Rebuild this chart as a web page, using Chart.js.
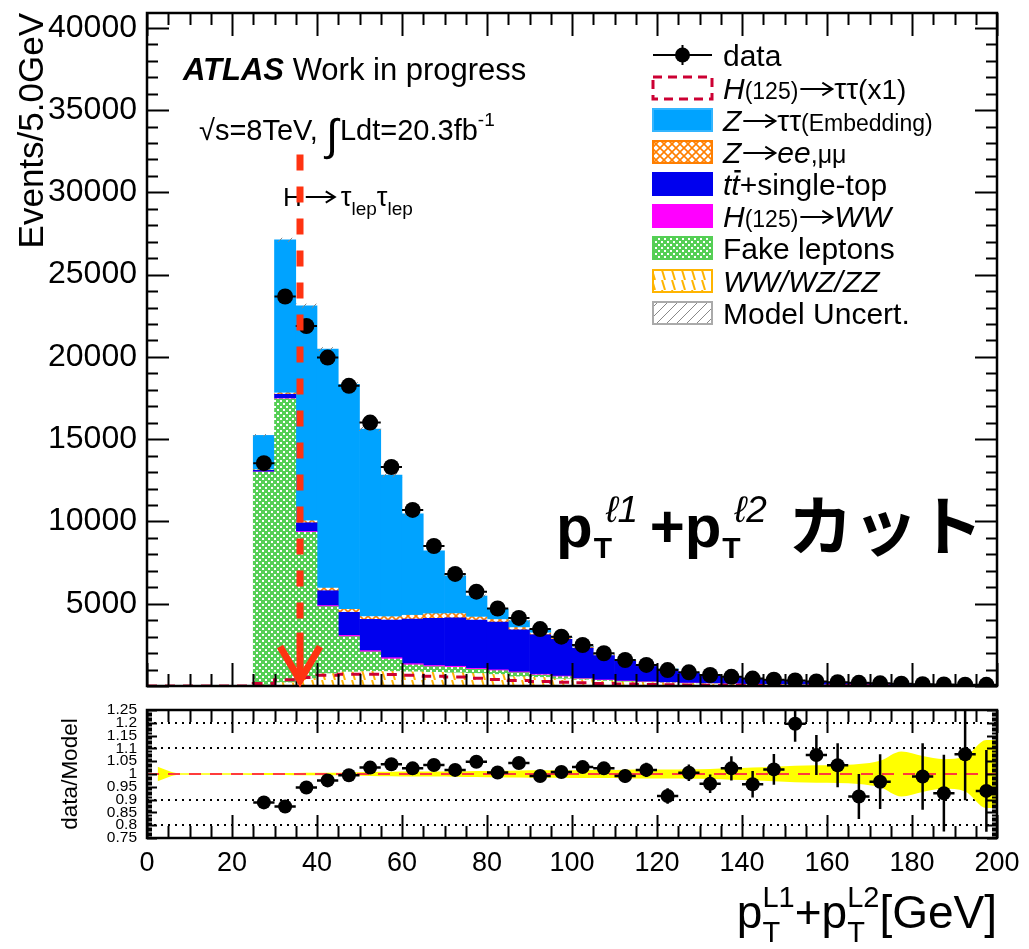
<!DOCTYPE html>
<html lang="ja">
<head>
<meta charset="utf-8">
<title>pT(l1)+pT(l2) distribution</title>
<script src="https://cdn.jsdelivr.net/npm/chart.js@4.4.1/dist/chart.umd.min.js"></script>
<style>
  html, body { margin: 0; padding: 0; background: #ffffff; }
  #wrap { position: relative; width: 1029px; height: 949px; overflow: hidden; background: #ffffff; }
  canvas { position: absolute; left: 0; }
  #mainCanvas { top: 0; }
  #ratioCanvas { top: 700px; }
</style>
</head>
<body>
<div id="wrap">
  <canvas id="mainCanvas" width="1029" height="700"></canvas>
  <canvas id="ratioCanvas" width="1029" height="249"></canvas>
</div>
<script>
// ---------------- binning (GeV) ----------------
const binLow = [0, 5, 10, 15, 20, 25, 30, 35, 40, 45, 50, 55, 60, 65, 70, 75, 80, 85, 90, 95,
                100, 105, 110, 115, 120, 125, 130, 135, 140, 145, 150, 155, 160, 165, 170, 175, 180, 185, 190, 195];
const binWidth = 5;
const xMin = 0, xMax = 200;
const xTickValues = [0, 20, 40, 60, 80, 100, 120, 140, 160, 180, 200];
const yMaxEvents = 40900;
const yTickValues = [5000, 10000, 15000, 20000, 25000, 30000, 35000, 40000];
const ratioMin = 0.75, ratioMax = 1.25;

// ---------------- observed events ----------------
const dataEvents = [null, null, null, null, null, 13540, 23670, 21880, 19960, 18240,
                    16010, 13310, 10700, 8510, 6810, 5730, 4710, 4140, 3460, 3000,
                    2490, 1990, 1580, 1280, 970, 830, 670, 560, 450, 380,
                    340, 280, 230, 190, 160, 135, 110, 90, 80, 70];

// ---------------- stacked backgrounds, bottom to top ----------------
const dibosonVV = [0, 0, 0, 0, 0, 60, 200, 450, 750, 850,
                   880, 880, 860, 830, 800, 760, 700, 560, 520, 430,
                   370, 300, 250, 210, 175, 145, 120, 100, 85, 70,
                   58, 48, 40, 34, 28, 24, 20, 17, 14, 12];
const fakeLeptons = [0, 0, 0, 0, 0, 12940, 17250, 8890, 4070, 2150,
                     1190, 760, 420, 345, 335, 255, 230, 250, 150, 135,
                     60, 45, 35, 30, 25, 20, 16, 13, 11, 9,
                     8, 7, 6, 5, 4, 4, 3, 3, 2, 2];
const hWW = [0, 0, 0, 0, 0, 15, 30, 50, 70, 80,
             80, 80, 75, 70, 65, 60, 55, 50, 45, 40,
             35, 30, 26, 22, 19, 16, 14, 12, 10, 8,
             7, 6, 5, 4, 4, 3, 3, 2, 2, 2];
const ttbarTop = [0, 0, 0, 0, 0, 90, 250, 530, 900, 1400,
                  1900, 2290, 2715, 2865, 2950, 2935, 2905, 2560, 2400, 2230,
                  1835, 1475, 1194, 928, 785, 599, 508, 392, 338, 266,
                  195, 186, 159, 155, 121, 97, 79, 70, 52, 55];
const zLL = [0, 0, 0, 0, 0, 40, 80, 120, 160, 180,
             170, 200, 230, 280, 250, 180, 150, 130, 110, 90,
             75, 60, 50, 40, 32, 26, 20, 16, 13, 10,
             8, 7, 6, 5, 4, 3, 3, 2, 2, 2];
const zTauTau = [0, 0, 0, 0, 0, 2085, 9300, 13060, 14520, 13670,
                 11400, 8610, 6170, 3830, 2300, 1280, 640, 420, 265, 55,
                 50, 40, 35, 30, 25, 20, 18, 15, 12, 10,
                 8, 7, 6, 5, 4, 4, 3, 3, 2, 2];

// ---------------- signal (not stacked) ----------------
const hTauTau = [0, 0, 0, 0, 0, 150, 380, 520, 650, 720,
                 720, 700, 660, 600, 540, 470, 400, 330, 280, 230,
                 190, 150, 120, 95, 75, 60, 48, 38, 30, 24,
                 19, 15, 12, 10, 8, 6, 5, 4, 3, 3];

// ---------------- data / model ----------------
const ratioValues = [null, null, null, null, null, 0.889, 0.873, 0.947, 0.975, 0.995,
                     1.025, 1.038, 1.022, 1.035, 1.016, 1.048, 1.006, 1.043, 0.992, 1.008,
                     1.027, 1.022, 0.992, 1.016, 0.914, 1.005, 0.962, 1.022, 0.960, 1.018,
                     1.196, 1.074, 1.034, 0.912, 0.970, null, 0.990, 0.925, 1.077, 0.934];
const ratioErrors = [null, null, null, null, null, 0.008, 0.007, 0.007, 0.007, 0.008,
                     0.008, 0.009, 0.010, 0.011, 0.012, 0.014, 0.015, 0.016, 0.017, 0.019,
                     0.021, 0.024, 0.026, 0.028, 0.030, 0.032, 0.036, 0.047, 0.052, 0.060,
                     0.070, 0.078, 0.086, 0.088, 0.107, null, 0.130, 0.150, 0.180, 0.160];
// relative model uncertainty per bin
const modelUnc = [0.028, 0.003, 0.003, 0.003, 0.003, 0.004, 0.004, 0.005, 0.005, 0.006,
                  0.008, 0.009, 0.010, 0.010, 0.011, 0.012, 0.013, 0.014, 0.015, 0.015,
                  0.016, 0.016, 0.017, 0.018, 0.018, 0.019, 0.020, 0.022, 0.025, 0.028,
                  0.032, 0.034, 0.035, 0.039, 0.052, 0.088, 0.070, 0.058, 0.068, 0.133];

// cut position drawn as an arrow (GeV) and its vertical extent (events)
const cutValue = 36;
const cutArrowTop = 32300;
const cutArrowTip = 330;

// ---------------- derived helpers ----------------
const centre = binLow.map(v => v + binWidth / 2);
const totalModel = binLow.map((_, i) =>
  dibosonVV[i] + fakeLeptons[i] + hWW[i] + ttbarTop[i] + zLL[i] + zTauTau[i]);
const atCentres = arr => centre.map((x, i) => ({ x, y: arr[i] }));

const SANS = '"Liberation Sans", Arial, Helvetica, sans-serif';
const CJK = '"Noto Sans CJK JP", "Noto Sans CJK SC", sans-serif';

// ---------------- fill patterns ----------------
function makePattern(size, paint) {
  const c = document.createElement('canvas');
  c.width = size; c.height = size;
  const g = c.getContext('2d');
  paint(g, size);
  return g.createPattern(c, 'repeat');
}
const COL = {
  ztt: '#00a3ff', tt: '#0000ee', hww: '#ff00ff', green: '#55cf55',
  zll: '#ff7f00', vv: '#ffb400', htt: '#cc0033', cut: '#ff3311', band: '#ffff00'
};
const fakePattern = makePattern(6, (g, s) => {
  g.fillStyle = COL.green; g.fillRect(0, 0, s, s);
  g.fillStyle = '#ffffff';
  g.fillRect(1, 1, 2, 2); g.fillRect(4, 4, 2, 2);
});
const zllPattern = makePattern(8, (g, s) => {
  g.fillStyle = '#ffffff'; g.fillRect(0, 0, s, s);
  g.strokeStyle = COL.zll; g.lineWidth = 1.6;
  g.beginPath();
  g.moveTo(-1, -1); g.lineTo(s + 1, s + 1);
  g.moveTo(s + 1, -1); g.lineTo(-1, s + 1);
  g.stroke();
});
const vvPattern = makePattern(10, (g, s) => {
  g.fillStyle = '#ffffff'; g.fillRect(0, 0, s, s);
  g.strokeStyle = COL.vv; g.lineWidth = 2;
  g.beginPath();
  g.moveTo(2, 0); g.lineTo(5, s);
  g.stroke();
});
const uncPattern = makePattern(10, (g, s) => {
  g.strokeStyle = '#888888'; g.lineWidth = 1;
  g.beginPath();
  g.moveTo(0, s); g.lineTo(s, 0);
  g.moveTo(-2, 2); g.lineTo(2, -2);
  g.moveTo(s - 2, s + 2); g.lineTo(s + 2, s - 2);
  g.stroke();
});

// ---------------- text helper: runs of mixed fonts, drawn arrows, overlines ----------------
function runs(ctx, x, y, parts) {
  for (const p of parts) {
    ctx.fillStyle = p.color || '#000';
    if (p.arrow) {
      const ay = y + p.arrow.dy, w = p.arrow.w;
      ctx.save();
      ctx.strokeStyle = '#000'; ctx.lineWidth = p.arrow.lw || 2;
      ctx.beginPath();
      ctx.moveTo(x + 2, ay); ctx.lineTo(x + w - 3, ay);
      ctx.moveTo(x + w - 3 - p.arrow.head, ay - p.arrow.head * 0.7);
      ctx.lineTo(x + w - 2, ay);
      ctx.lineTo(x + w - 3 - p.arrow.head, ay + p.arrow.head * 0.7);
      ctx.stroke();
      ctx.restore();
      x += w;
      continue;
    }
    ctx.font = p.font;
    ctx.fillText(p.t, x, y + (p.dy || 0));
    const tw = ctx.measureText(p.t).width;
    if (p.overline !== undefined) ctx.fillRect(x + 3, y + p.overline, tw - 2, 2.5);
    if (p.sup) {
      ctx.font = p.sup.font;
      ctx.fillText(p.sup.t, x + (p.sup.dx || 0), y + p.sup.dy);
    }
    x += (p.w !== undefined ? p.w : tw) + (p.kern || 0);
  }
  return x;
}

// ---------------- frame with inward ticks ----------------
const rootFrame = {
  id: 'rootFrame',
  afterDraw(chart, args, o) {
    const { ctx, chartArea: a, scales: { x, y } } = chart;
    ctx.save();
    ctx.strokeStyle = '#000';
    ctx.lineWidth = 2;
    ctx.beginPath();
    const nx = Math.round((x.max - x.min) / o.xMinor);
    for (let i = 0; i <= nx; i++) {
      const v = x.min + i * o.xMinor;
      const px = Math.round(x.getPixelForValue(v)) + 0.5;
      const major = Math.abs(v / o.xMajor - Math.round(v / o.xMajor)) < 1e-6;
      const L = major ? o.xMajorLen : o.xMinorLen;
      ctx.moveTo(px, a.bottom); ctx.lineTo(px, a.bottom - L);
      ctx.moveTo(px, a.top); ctx.lineTo(px, a.top + L);
    }
    const ny = Math.floor((y.max - y.min) / o.yMinor + 1e-6);
    for (let i = 0; i <= ny; i++) {
      const v = y.min + i * o.yMinor;
      const py = Math.round(y.getPixelForValue(v)) + 0.5;
      const major = Math.abs(v / o.yMajor - Math.round(v / o.yMajor)) < 1e-6;
      const L = major ? o.yMajorLen : o.yMinorLen;
      ctx.moveTo(a.left, py); ctx.lineTo(a.left + L, py);
      ctx.moveTo(a.right, py); ctx.lineTo(a.right - L, py);
    }
    ctx.stroke();
    ctx.lineWidth = 2.5;
    ctx.strokeRect(a.left, a.top, a.right - a.left, a.bottom - a.top);
    ctx.restore();
  }
};

// ---------------- error bars on observed points ----------------
const errorBars = {
  id: 'errorBars',
  afterDatasetsDraw(chart, args, o) {
    const { ctx, chartArea: a, scales: { x, y } } = chart;
    ctx.save();
    ctx.beginPath(); ctx.rect(a.left, a.top, a.right - a.left, a.bottom - a.top); ctx.clip();
    ctx.strokeStyle = '#000'; ctx.lineWidth = o.lineWidth;
    ctx.beginPath();
    o.values.forEach((v, i) => {
      if (v === null) return;
      const px = x.getPixelForValue(centre[i]);
      const py = y.getPixelForValue(v);
      ctx.moveTo(x.getPixelForValue(binLow[i]), py);
      ctx.lineTo(x.getPixelForValue(binLow[i] + binWidth), py);
      if (o.errors && o.errors[i] !== null) {
        ctx.moveTo(px, y.getPixelForValue(v - o.errors[i]));
        ctx.lineTo(px, y.getPixelForValue(v + o.errors[i]));
      }
    });
    ctx.stroke();
    ctx.restore();
  }
};

// ---------------- labels, cut arrow and legend of the upper panel ----------------
const upperLabels = {
  id: 'upperLabels',
  afterDraw(chart) {
    const { ctx, scales: { x, y } } = chart;
    ctx.save();
    ctx.textBaseline = 'alphabetic';

    // experiment label
    runs(ctx, 183, 80, [
      { t: 'ATLAS', font: `italic bold 31px ${SANS}` },
      { t: ' Work in progress', font: `31px ${SANS}` }
    ]);
    runs(ctx, 199, 140, [
      { t: '\u221As', font: `29px ${SANS}` },
      { t: '=8TeV, ', font: `29px ${SANS}` },
      { t: '\u222B', font: `44px ${SANS}`, dy: 10, kern: 2 },
      { t: 'Ldt=20.3fb', font: `29px ${SANS}` },
      { t: '-1', font: `19px ${SANS}`, dy: -14 }
    ]);

    // channel label
    runs(ctx, 283, 206, [
      { t: 'H', font: `26px ${SANS}`, kern: 2 },
      { arrow: { w: 33, dy: -9, head: 8, lw: 2 } },
      { t: '', font: `26px ${SANS}`, w: 4 },
      { t: '\u03C4', font: `27px ${SANS}` },
      { t: 'lep', font: `19px ${SANS}`, dy: 9 },
      { t: '\u03C4', font: `27px ${SANS}` },
      { t: 'lep', font: `19px ${SANS}`, dy: 9 }
    ]);

    // big selection label
    const B = `bold 60px ${SANS}`, SUB = `bold 30px ${SANS}`, SUP = `italic 37px ${SANS}`;
    const bx = runs(ctx, 556, 547, [
      { t: 'p', font: B, kern: 1 },
      { t: 'T', font: SUB, dy: 11, w: 56, sup: { t: '\u21131', font: SUP, dy: -25, dx: 12 } },
      { t: '+', font: B, kern: 0 },
      { t: 'p', font: B, kern: 1 },
      { t: 'T', font: SUB, dy: 11, w: 56, sup: { t: '\u21132', font: SUP, dy: -25, dx: 12 } }
    ]);
    ctx.font = `bold 65px ${CJK}`;
    ctx.fillText('\u30AB\u30C3\u30C8', Math.max(bx + 4, 788), 550);

    // cut arrow
    const cx = x.getPixelForValue(cutValue);
    const yTop = y.getPixelForValue(cutArrowTop);
    const yTip = y.getPixelForValue(cutArrowTip);
    ctx.strokeStyle = COL.cut; ctx.lineWidth = 7; ctx.lineCap = 'butt';
    ctx.setLineDash([16, 16]);
    ctx.beginPath(); ctx.moveTo(cx, yTop); ctx.lineTo(cx, yTip - 48); ctx.stroke();
    ctx.setLineDash([]);
    ctx.beginPath(); ctx.moveTo(cx, yTip - 48); ctx.lineTo(cx, yTip - 2); ctx.stroke();
    ctx.lineJoin = 'miter';
    ctx.beginPath();
    ctx.moveTo(cx - 20, yTip - 34); ctx.lineTo(cx, yTip); ctx.lineTo(cx + 20, yTip - 34);
    ctx.stroke();

    // legend
    const lx = 653, bw = 59, bh = 22, tx = 723;
    const rows = [55, 88, 120, 152, 184, 216, 248, 281, 313];
    const F = (s, st) => `${st || ''} ${s}px ${SANS}`;
    ctx.strokeStyle = '#000'; ctx.lineWidth = 2;
    ctx.beginPath(); ctx.moveTo(lx, rows[0]); ctx.lineTo(lx + bw, rows[0]);
    ctx.moveTo(lx + bw / 2, rows[0] - 10); ctx.lineTo(lx + bw / 2, rows[0] + 10); ctx.stroke();
    ctx.fillStyle = '#000'; ctx.beginPath(); ctx.arc(lx + bw / 2, rows[0], 7.5, 0, 2 * Math.PI); ctx.fill();
    const box = (r, fill, stroke, dash) => {
      const top = rows[r] - bh / 2;
      if (fill) { ctx.fillStyle = fill; ctx.fillRect(lx, top, bw, bh); }
      ctx.strokeStyle = stroke; ctx.lineWidth = dash ? 3 : 2;
      ctx.setLineDash(dash || []);
      ctx.strokeRect(lx, top, bw, bh);
      ctx.setLineDash([]);
    };
    box(1, null, COL.htt, [9, 6]);
    box(2, COL.ztt, '#33b5ff');
    box(3, zllPattern, COL.zll);
    box(4, COL.tt, COL.tt);
    box(5, COL.hww, COL.hww);
    box(6, fakePattern, COL.green);
    box(7, vvPattern, COL.vv);
    box(8, uncPattern, '#aaaaaa');
    const b = r => rows[r] + 11;
    const arr = { arrow: { w: 36, dy: -10, head: 9, lw: 2 } };
    runs(ctx, tx, b(0), [{ t: 'data', font: F(30) }]);
    runs(ctx, tx, b(1), [
      { t: 'H', font: F(30, 'italic') }, { t: '(125)', font: F(23) }, arr,
      { t: '\u03C4\u03C4', font: F(30) }, { t: '(x1)', font: F(28) }]);
    runs(ctx, tx, b(2), [
      { t: 'Z', font: F(30, 'italic') }, arr,
      { t: '\u03C4\u03C4', font: F(30) }, { t: '(Embedding)', font: F(23) }]);
    runs(ctx, tx, b(3), [
      { t: 'Z', font: F(30, 'italic') }, arr,
      { t: 'ee', font: F(30, 'italic') }, { t: ',\u03BC\u03BC', font: F(25) }]);
    runs(ctx, tx, b(4), [
      { t: 't', font: F(30, 'italic') }, { t: 't', font: F(30, 'italic'), overline: -25 },
      { t: '+single-top', font: F(30) }]);
    runs(ctx, tx, b(5), [
      { t: 'H', font: F(30, 'italic') }, { t: '(125)', font: F(23) }, arr,
      { t: 'WW', font: F(30, 'italic') }]);
    runs(ctx, tx, b(6), [{ t: 'Fake leptons', font: F(30) }]);
    runs(ctx, tx, b(7), [{ t: 'WW/WZ/ZZ', font: F(30, 'italic') }]);
    runs(ctx, tx, b(8), [{ t: 'Model Uncert.', font: F(30) }]);
    ctx.restore();
  }
};

// ---------------- x-axis title of the lower panel ----------------
const lowerTitle = {
  id: 'lowerTitle',
  afterDraw(chart) {
    const { ctx, chartArea: a } = chart;
    ctx.save();
    ctx.fillStyle = '#000';
    const big = `46px ${SANS}`, small = `29px ${SANS}`;
    const base = 228;
    const piece = [
      { t: 'p', font: big },
      { t: 'T', font: small, dy: 14, stackWith: 'L1' },
      { t: '+', font: big },
      { t: 'p', font: big },
      { t: 'T', font: small, dy: 14, stackWith: 'L2' },
      { t: '[GeV]', font: big }
    ];
    let w = 0;
    const widths = piece.map(p => {
      ctx.font = p.font;
      let pw = ctx.measureText(p.t).width;
      if (p.stackWith) pw = Math.max(pw, ctx.measureText(p.stackWith).width);
      w += pw; return pw;
    });
    let x = a.right - w;
    piece.forEach((p, i) => {
      ctx.font = p.font;
      ctx.fillText(p.t, x, base + (p.dy || 0));
      if (p.stackWith) ctx.fillText(p.stackWith, x, base - 21);
      x += widths[i];
    });
    ctx.restore();
  }
};

// keep the plot area exactly where the layout puts it
const noLabelOverhang = s => { s.paddingTop = 0; s.paddingBottom = 0; s.paddingLeft = 0; s.paddingRight = 0; };

// ---------------- upper panel ----------------
const bkg = (label, values, fill) => ({
  type: 'bar', label, data: atCentres(values), backgroundColor: fill,
  borderWidth: 0, stack: 'bkg', grouped: false, barPercentage: 1, categoryPercentage: 1, order: 3
});
const stepPoints = binLow.map((x, i) => ({ x, y: hTauTau[i] }))
  .concat([{ x: xMax, y: hTauTau[hTauTau.length - 1] }]);
const uncBars = centre.map((x, i) => ({
  x, y: totalModel[i] > 0 ? [totalModel[i] * (1 - modelUnc[i]), totalModel[i] * (1 + modelUnc[i])] : null
}));

new Chart(document.getElementById('mainCanvas'), {
  type: 'bar',
  data: {
    datasets: [
      { type: 'line', label: 'data', data: atCentres(dataEvents), showLine: false,
        pointRadius: 8, pointHoverRadius: 8, pointBackgroundColor: '#000', pointBorderColor: '#000',
        pointBorderWidth: 0, stack: 'obs', order: 0 },
      { type: 'line', label: 'H(125)\u2192\u03C4\u03C4(x1)', data: stepPoints, stepped: 'before',
        borderColor: COL.htt, borderWidth: 3, borderDash: [10, 8], pointRadius: 0, fill: false,
        stack: 'sig', order: 1 },
      { type: 'bar', label: 'Model Uncert.', data: uncBars, backgroundColor: uncPattern, borderWidth: 0,
        stack: 'unc', grouped: false, barPercentage: 1, categoryPercentage: 1, order: 2 },
      bkg('WW/WZ/ZZ', dibosonVV, vvPattern),
      bkg('Fake leptons', fakeLeptons, fakePattern),
      bkg('H(125)\u2192WW', hWW, COL.hww),
      bkg('tt\u0304+single-top', ttbarTop, COL.tt),
      bkg('Z\u2192ee,\u03BC\u03BC', zLL, zllPattern),
      bkg('Z\u2192\u03C4\u03C4(Embedding)', zTauTau, COL.ztt)
    ]
  },
  options: {
    responsive: false, animation: false, devicePixelRatio: 1,
    layout: { padding: { left: 0, right: 32, top: 13, bottom: 14 } },
    plugins: {
      legend: { display: false }, tooltip: { enabled: false },
      rootFrame: { xMajor: 20, xMinor: 5, xMajorLen: 23, xMinorLen: 12,
                   yMajor: 5000, yMinor: 1000, yMajorLen: 22, yMinorLen: 11 },
      errorBars: { values: dataEvents, errors: null, lineWidth: 2 }
    },
    scales: {
      x: { type: 'linear', min: xMin, max: xMax, display: false, offset: false,
           afterBuildTicks(s) { s.ticks = xTickValues.map(value => ({ value })); } },
      y: {
        type: 'linear', min: 0, max: yMaxEvents, stacked: true,
        afterFit(s) { s.width = 147; noLabelOverhang(s); },
        afterBuildTicks(s) { s.ticks = yTickValues.map(value => ({ value })); },
        grid: { display: false, drawTicks: false }, border: { display: false },
        ticks: { color: '#000', padding: 10, font: { family: SANS, size: 32 },
                 callback: v => String(v) },
        title: { display: true, text: 'Events/5.0GeV', align: 'end', color: '#000',
                 font: { family: SANS, size: 35 }, padding: { top: 12, bottom: 0 } }
      }
    }
  },
  plugins: [errorBars, rootFrame, upperLabels]
});

// ---------------- lower panel ----------------
const bandX = centre.concat([xMax]);
const bandErr = modelUnc.concat([modelUnc[modelUnc.length - 1]]);
const unity = 1;
const dottedAt = [80, 90, 110, 120];

new Chart(document.getElementById('ratioCanvas'), {
  type: 'line',
  data: {
    datasets: [
      { label: 'data/Model', data: atCentres(ratioValues), showLine: false,
        pointRadius: 7, pointHoverRadius: 7, pointBackgroundColor: '#000', pointBorderWidth: 0, order: 0 },
      { label: 'unity', data: [{ x: xMin, y: unity }, { x: xMax, y: unity }], borderColor: '#ff3b3b',
        borderWidth: 2, borderDash: [12, 9], pointRadius: 0, fill: false, order: 1 },
      { label: 'band up', data: bandX.map((x, i) => ({ x, y: unity + bandErr[i] })),
        borderWidth: 0, borderColor: 'rgba(0,0,0,0)', pointRadius: 0, fill: false,
        cubicInterpolationMode: 'monotone', order: 2 },
      { label: 'band down', data: bandX.map((x, i) => ({ x, y: unity - bandErr[i] })),
        borderWidth: 0, borderColor: 'rgba(0,0,0,0)', pointRadius: 0, fill: '-1',
        backgroundColor: COL.band, cubicInterpolationMode: 'monotone', order: 3 }
    ]
  },
  options: {
    responsive: false, animation: false, devicePixelRatio: 1,
    layout: { padding: { left: 0, right: 32, top: 10, bottom: 0 } },
    plugins: {
      legend: { display: false }, tooltip: { enabled: false }, filler: { propagate: false },
      rootFrame: { xMajor: 20, xMinor: 5, xMajorLen: 23, xMinorLen: 12,
                   yMajor: 0.05, yMinor: 0.01, yMajorLen: 10, yMinorLen: 5 },
      errorBars: { values: ratioValues, errors: ratioErrors, lineWidth: 2.5 }
    },
    scales: {
      x: {
        type: 'linear', min: xMin, max: xMax, offset: false,
        afterFit(s) { s.height = 111; noLabelOverhang(s); },
        afterBuildTicks(s) { s.ticks = xTickValues.map(value => ({ value })); },
        grid: { display: false, drawTicks: false }, border: { display: false },
        ticks: { color: '#000', padding: 9, maxRotation: 0, autoSkip: false,
                 font: { family: SANS, size: 27 } }
      },
      y: {
        type: 'linear', min: ratioMin, max: ratioMax,
        afterFit(s) { s.width = 147; noLabelOverhang(s); },
        grid: { drawTicks: false, lineWidth: 2,
                color: c => (dottedAt.includes(Math.round(c.tick.value * 100)) ? '#000' : 'rgba(0,0,0,0)') },
        border: { display: false, dash: [2, 5] },
        ticks: { stepSize: 0.05, autoSkip: false, color: '#000', padding: 10,
                 font: { family: SANS, size: 15.5 },
                 callback: v => String(Number(v.toFixed(2))) },
        title: { display: true, text: 'data/Model', color: '#000',
                 font: { family: SANS, size: 22.5 }, padding: { top: 57, bottom: 0 } }
      }
    }
  },
  plugins: [errorBars, rootFrame, lowerTitle]
});
</script>
</body>
</html>
